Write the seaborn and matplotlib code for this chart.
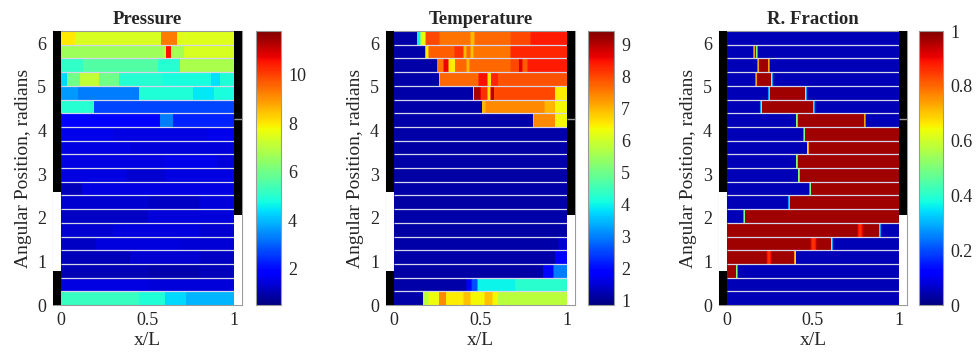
import numpy as np
import matplotlib
matplotlib.use("Agg")
import matplotlib.pyplot as plt
import seaborn as sns
from matplotlib.patches import Rectangle

sns.set_theme(style="white")
plt.rcParams["font.family"] = ["Liberation Serif", "DejaVu Serif"]

# ---------------------------------------------------------------- grid
N_ROWS = 20          # channels around the rotor
N_COLS = 250         # axial resolution used for drawing
THETA_MAX = 2 * np.pi

TITLES = ["Pressure", "Temperature", "R. Fraction"]
X_TICKS = [0, 0.5, 1]
X_TICK_LABELS = ["0", "0.5", "1"]
Y_TICKS = [0, 1, 2, 3, 4, 5, 6]
Y_TICK_LABELS = ["0", "1", "2", "3", "4", "5", "6"]

PRESSURE_RANGE = (0.5, 11.8)
TEMPERATURE_RANGE = (0.87, 9.42)
FRACTION_RANGE = (0.0, 1.0)

PRESSURE_TICKS = [2, 4, 6, 8, 10]
TEMPERATURE_TICKS = [1, 2, 3, 4, 5, 6, 7, 8, 9]
FRACTION_TICKS = [0, 0.2, 0.4, 0.6, 0.8, 1.0]
FRACTION_TICK_LABELS = ["0", "0.2", "0.4", "0.6", "0.8", "1"]

# port openings on each end wall: (theta start, theta end, colour)
LEFT_PORTS = [(0.0, 0.78, "black"), (0.78, 2.6, "white"), (2.6, THETA_MAX, "black")]
RIGHT_PORTS = [(0.0, 2.07, "white"), (2.07, THETA_MAX, "black")]
RIGHT_MARK = 4.27

# channel states, top channel first: (x/L where segment starts, value)
PRESSURE_ROWS = [
    [(0, 8.0), (0.08, 7.4), (0.575, 9.3), (0.67, 7.5)],
    [(0, 6.6), (0.59, 7.0), (0.606, 10.6), (0.634, 6.7), (0.71, 7.4)],
    [(0, 5.1), (0.13, 5.6), (0.56, 5.0), (0.69, 6.8)],
    [(0, 4.3), (0.035, 6.0), (0.113, 7.1), (0.22, 6.0), (0.337, 5.0), (0.58, 4.8), (0.864, 4.4), (0.922, 4.9)],
    [(0, 3.6), (0.1, 3.3), (0.454, 4.9), (0.766, 4.5), (0.883, 4.8)],
    [(0, 5.0), (0.187, 2.7)],
    [(0, 1.9), (0.571, 3.3), (0.649, 2.3)],
    [(0, 1.6), (0.3, 1.5), (0.85, 1.6)],
    [(0, 1.5), (0.4, 1.4)],
    [(0, 1.5), (0.6, 1.6), (0.9, 1.4)],
    [(0, 1.5), (0.38, 1.3), (0.6, 1.5)],
    [(0, 1.1), (0.12, 1.5)],
    [(0, 1.3), (0.5, 1.2), (0.8, 1.4)],
    [(0, 1.2), (0.5, 1.4)],
    [(0, 1.3), (0.3, 1.45), (0.8, 1.3)],
    [(0, 1.2), (0.2, 1.45), (0.7, 1.35)],
    [(0, 1.1), (0.4, 1.3), (0.8, 1.2)],
    [(0, 1.05), (0.5, 0.95), (0.8, 1.1)],
    [(0, 1.5), (0.5, 1.4)],
    [(0, 5.2), (0.45, 4.9), (0.6, 4.3), (0.72, 3.9)],
]

TEMPERATURE_ROWS = [
    [(0, 1.2), (0.134, 4.0), (0.153, 6.3), (0.18, 8.0), (0.266, 7.6), (0.44, 7.0), (0.465, 7.7), (0.674, 8.0), (0.79, 8.4)],
    [(0, 1.2), (0.18, 6.5), (0.2, 7.8), (0.35, 8.2), (0.4, 7.0), (0.42, 7.7), (0.44, 6.9), (0.46, 7.6), (0.674, 8.3)],
    [(0, 1.2), (0.25, 7.6), (0.285, 8.6), (0.315, 6.5), (0.353, 7.7), (0.42, 7.0), (0.435, 7.7), (0.674, 8.0), (0.72, 8.7), (0.74, 7.8), (0.77, 8.4)],
    [(0, 1.2), (0.266, 7.7), (0.49, 8.5), (0.54, 6.6), (0.56, 8.3), (0.6, 7.9)],
    [(0, 1.2), (0.46, 9.1), (0.5, 8.2), (0.54, 6.6), (0.555, 9.0), (0.577, 8.0), (0.93, 6.5)],
    [(0, 1.2), (0.51, 7.0), (0.53, 7.4), (0.87, 7.0), (0.93, 6.4)],
    [(0, 1.2), (0.806, 7.4), (0.93, 6.4)],
    [(0, 1.2)],
    [(0, 1.15)],
    [(0, 1.2)],
    [(0, 1.15)],
    [(0, 1.2)],
    [(0, 1.15)],
    [(0, 1.2)],
    [(0, 1.15)],
    [(0, 1.2), (0.95, 1.5)],
    [(0, 1.2), (0.93, 1.9)],
    [(0, 1.15), (0.86, 2.0), (0.92, 3.0)],
    [(0, 1.2), (0.42, 1.8), (0.45, 2.6), (0.48, 4.0), (0.7, 4.3)],
    [(0, 1.2), (0.17, 5.8), (0.2, 6.3), (0.26, 7.4), (0.3, 6.5), (0.4, 6.9), (0.44, 6.4), (0.52, 6.9), (0.57, 6.4), (0.6, 5.8)],
]

FRACTION_ROWS = [
    [(0, 0.05)],
    [(0, 0.05), (0.155, 0.97), (0.174, 0.05)],
    [(0, 0.05), (0.18, 0.97), (0.244, 0.05)],
    [(0, 0.05), (0.17, 0.97), (0.26, 0.05)],
    [(0, 0.05), (0.244, 0.97), (0.457, 0.05)],
    [(0, 0.05), (0.2, 0.97), (0.504, 0.05)],
    [(0, 0.05), (0.403, 0.97), (0.8, 0.05)],
    [(0, 0.05), (0.45, 0.97)],
    [(0, 0.05), (0.47, 0.97)],
    [(0, 0.05), (0.403, 0.97)],
    [(0, 0.05), (0.417, 0.97)],
    [(0, 0.05), (0.485, 0.97)],
    [(0, 0.05), (0.36, 0.97)],
    [(0, 0.05), (0.1, 0.97)],
    [(0, 0.97), (0.76, 0.86), (0.785, 0.97), (0.887, 0.05)],
    [(0, 0.97), (0.49, 0.86), (0.515, 0.97), (0.607, 0.05)],
    [(0, 0.97), (0.232, 0.86), (0.257, 0.97), (0.397, 0.05)],
    [(0, 0.97), (0.058, 0.05)],
    [(0, 0.05)],
    [(0, 0.05)],
]


def build_grid(rows, smooth=1):
    """Sample each channel's piecewise-constant profile on the axial grid."""
    x = (np.arange(N_COLS) + 0.5) / N_COLS
    grid = np.empty((len(rows), N_COLS))
    for i, segs in enumerate(rows):
        starts = np.array([s for s, _ in segs])
        vals = np.array([v for _, v in segs])
        grid[i] = vals[np.searchsorted(starts, x, side="right") - 1]
    if smooth > 1:
        k = np.ones(smooth) / smooth
        pad = smooth // 2
        padded = np.pad(grid, ((0, 0), (pad, smooth - 1 - pad)), mode="edge")
        grid = np.array([np.convolve(r, k, mode="valid") for r in padded])
    return grid


def theta_to_row(theta):
    return N_ROWS * (1 - theta / THETA_MAX)


PANELS = [
    dict(grid=build_grid(PRESSURE_ROWS), rng=PRESSURE_RANGE, ticks=PRESSURE_TICKS,
         labels=[str(t) for t in PRESSURE_TICKS], ax=0.0545, cax=0.2618, cw=0.0256, w=0.1933),
    dict(grid=build_grid(TEMPERATURE_ROWS, smooth=2), rng=TEMPERATURE_RANGE, ticks=TEMPERATURE_TICKS,
         labels=[str(t) for t in TEMPERATURE_TICKS], ax=0.3947, cax=0.6012, cw=0.0266, w=0.1933),
    dict(grid=build_grid(FRACTION_ROWS, smooth=4), rng=FRACTION_RANGE, ticks=FRACTION_TICKS,
         labels=FRACTION_TICK_LABELS, ax=0.7352, cax=0.9397, cw=0.0245, w=0.1922),
]

X_LO, X_HI = -0.044, 1.046
BOTTOM, HEIGHT = 0.1384, 0.774
FRAME = "#9a9a9a"

fig = plt.figure(figsize=(9.78, 3.54), dpi=100)

for title, p in zip(TITLES, PANELS):
    ax = fig.add_axes([p["ax"], BOTTOM, p["w"], HEIGHT])
    cax = fig.add_axes([p["cax"], BOTTOM, p["cw"], HEIGHT])
    sns.heatmap(p["grid"], ax=ax, cbar_ax=cax, cmap="jet",
                vmin=p["rng"][0], vmax=p["rng"][1],
                xticklabels=False, yticklabels=False, rasterized=True)

    ax.set_xlim(X_LO * N_COLS, X_HI * N_COLS)
    ax.set_ylim(N_ROWS, 0)

    # channel separators
    ax.hlines(np.arange(1, N_ROWS), 0, N_COLS, colors="#d6d6ea", linewidth=0.9)

    # end-wall port bars
    for t0, t1, c in LEFT_PORTS:
        ax.add_patch(Rectangle((X_LO * N_COLS, theta_to_row(t1)), -X_LO * N_COLS,
                               theta_to_row(t0) - theta_to_row(t1), facecolor=c,
                               edgecolor="none", zorder=3))
    for t0, t1, c in RIGHT_PORTS:
        ax.add_patch(Rectangle((N_COLS, theta_to_row(t1)), (X_HI - 1) * N_COLS,
                               theta_to_row(t0) - theta_to_row(t1), facecolor=c,
                               edgecolor="none", zorder=3))
    ax.hlines(theta_to_row(RIGHT_MARK), N_COLS, X_HI * N_COLS, colors="#9a9a9a",
              linewidth=1.0, zorder=4)

    ax.set_xticks([x * N_COLS for x in X_TICKS])
    ax.set_xticklabels(X_TICK_LABELS)
    ax.set_yticks([theta_to_row(t) for t in Y_TICKS])
    ax.set_yticklabels(Y_TICK_LABELS, rotation=0)
    ax.tick_params(axis="both", which="both", direction="in", length=3, width=0.6,
                   color="#777777", labelsize=13, bottom=True, left=True)
    ax.tick_params(axis="x", pad=5)
    ax.tick_params(axis="y", pad=5)
    for s in ax.spines.values():
        s.set_visible(True)
        s.set_color(FRAME)
        s.set_linewidth(0.8)

    ax.set_title(title, fontsize=13.5, fontweight="bold", pad=5)
    ax.set_xlabel("x/L", fontsize=14, labelpad=2)
    ax.set_ylabel("Angular Position, radians", fontsize=14, labelpad=4)

    cbar = ax.collections[0].colorbar
    cbar.set_ticks(p["ticks"])
    cbar.set_ticklabels(p["labels"])
    cbar.outline.set_visible(True)
    cbar.outline.set_edgecolor(FRAME)
    cbar.outline.set_linewidth(0.8)
    cax.tick_params(direction="in", length=3, width=0.6, color="#555555",
                    labelsize=13, right=True, pad=5)

fig.savefig("out.png", dpi=100, facecolor="white")
